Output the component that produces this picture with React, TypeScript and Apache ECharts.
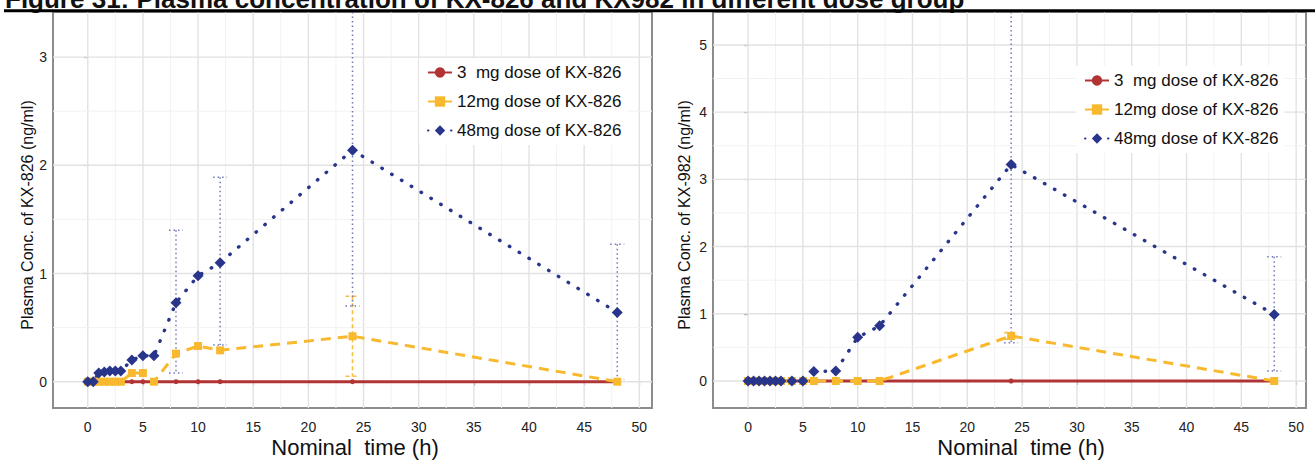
import React, { useEffect, useRef } from "react";
import * as echarts from "echarts";

// Sampling times (h)
const timePoints = [0, 0.5, 1, 1.5, 2, 2.5, 3, 4, 5, 6, 8, 10, 12, 24, 48];

// KX-826 mean plasma concentration (ng/ml)
const kx826Dose3 = [0, 0, 0, 0, 0, 0, 0, 0, 0, 0, 0, 0, 0, 0, 0];
const kx826Dose12 = [0, 0, 0, 0, 0, 0, 0, 0.08, 0.08, 0, 0.26, 0.33, 0.29, 0.42, 0];
const kx826Dose48 = [0, 0, 0.08, 0.09, 0.1, 0.1, 0.1, 0.2, 0.24, 0.24, 0.73, 0.98, 1.1, 2.14, 0.64];

// KX-826 error bar limits
const kx826Err12Times = [24];
const kx826Err12Low = [0.05];
const kx826Err12High = [0.79];
const kx826Err48Times = [8, 12, 24, 48];
const kx826Err48Low = [0.08, 0.34, 0.7, 0.02];
const kx826Err48High = [1.4, 1.89, 3.58, 1.27];

// KX-982 mean plasma concentration (ng/ml)
const kx982Dose3 = [0, 0, 0, 0, 0, 0, 0, 0, 0, 0, 0, 0, 0, 0, 0];
const kx982Dose12 = [0, 0, 0, 0, 0, 0, 0, 0, 0, 0, 0, 0, 0, 0.67, 0];
const kx982Dose48 = [0, 0, 0, 0, 0, 0, 0, 0, 0, 0.14, 0.15, 0.65, 0.82, 3.22, 0.99];

// KX-982 error bar limits
const kx982Err12Times = [24];
const kx982Err12Low = [0.62];
const kx982Err12High = [0.72];
const kx982Err48Times = [24, 48];
const kx982Err48Low = [0.57, 0.15];
const kx982Err48High = [5.87, 1.85];

// Axis ticks and grid lines
const xTicks = [0, 5, 10, 15, 20, 25, 30, 35, 40, 45, 50];
const xMinor = [2.5, 7.5, 12.5, 17.5, 22.5, 27.5, 32.5, 37.5, 42.5, 47.5];
const yTicks826 = [0, 1, 2, 3];
const yMinor826 = [0.5, 1.5, 2.5];
const yTicks982 = [0, 1, 2, 3, 4, 5];
const yMinor982 = [0.5, 1.5, 2.5, 3.5, 4.5];

const seriesNames = ["3  mg dose of KX-826", "12mg dose of KX-826", "48mg dose of KX-826"];

const FONT = "'Liberation Sans', Arial, Helvetica, sans-serif";
const RED = "#b03434";
const YELLOW = "#f9b92e";
const BLUE = "#28358a";
const BLUE_ERR = "#6f79b8";
const YELLOW_ERR = "#f6c040";

function gridLineSeries(idx: number, xMaj: number[], xMin: number[], yMaj: number[], yMin: number[]) {
  const data: number[][] = [];
  xMaj.forEach((v) => data.push([0, v, 0]));
  xMin.forEach((v) => data.push([0, v, 1]));
  yMaj.forEach((v) => data.push([1, v, 0]));
  yMin.forEach((v) => data.push([1, v, 1]));
  return {
    type: "custom",
    xAxisIndex: idx,
    yAxisIndex: idx,
    silent: true,
    z: 1,
    data,
    encode: { x: -1, y: -1 },
    renderItem: (params: any, api: any) => {
      const cs = params.coordSys;
      const horizontal = api.value(0) === 1;
      const v = api.value(1);
      const minor = api.value(2) === 1;
      const style = { stroke: minor ? "#f2f2f2" : "#e2e2e2", lineWidth: minor ? 1 : 1.4 };
      if (horizontal) {
        const y = api.coord([0, v])[1];
        return { type: "line", shape: { x1: cs.x, y1: y, x2: cs.x + cs.width, y2: y }, style };
      }
      const x = api.coord([v, 0])[0];
      return { type: "line", shape: { x1: x, y1: cs.y, x2: x, y2: cs.y + cs.height }, style };
    },
  };
}

function errorBarSeries(
  idx: number,
  times: number[],
  lows: number[],
  highs: number[],
  color: string,
  dash: number[],
  width: number
) {
  return {
    type: "custom",
    xAxisIndex: idx,
    yAxisIndex: idx,
    silent: true,
    z: 2,
    data: times.map((t, i) => [t, lows[i], highs[i]]),
    encode: { x: 0, y: [1, 2] },
    renderItem: (params: any, api: any) => {
      const cs = params.coordSys;
      const t = api.value(0);
      const lo = api.value(1);
      const hi = api.value(2);
      const [x, yLo] = api.coord([t, lo]);
      const yHiRaw = api.coord([t, hi])[1];
      const yHi = Math.max(yHiRaw, cs.y);
      const style = { stroke: color, lineWidth: width, lineDash: dash, fill: null };
      const half = 7;
      const children: any[] = [
        { type: "line", shape: { x1: x, y1: yHi, x2: x, y2: yLo }, style },
        { type: "line", shape: { x1: x - half, y1: yLo, x2: x + half, y2: yLo }, style },
      ];
      if (yHiRaw >= cs.y) {
        children.push({ type: "line", shape: { x1: x - half, y1: yHi, x2: x + half, y2: yHi }, style });
      }
      return { type: "group", children };
    },
  };
}

function doseSeries(idx: number, d3: number[], d12: number[], d48: number[]) {
  const pts = (vals: number[]) => timePoints.map((t, i) => [t, vals[i]]);
  return [
    {
      name: seriesNames[0],
      type: "line",
      xAxisIndex: idx,
      yAxisIndex: idx,
      z: 3,
      data: pts(d3),
      symbol: "circle",
      symbolSize: 5,
      showSymbol: true,
      itemStyle: { color: RED },
      lineStyle: { color: RED, width: 3 },
    },
    {
      name: seriesNames[1],
      type: "line",
      xAxisIndex: idx,
      yAxisIndex: idx,
      z: 3,
      data: pts(d12),
      symbol: "rect",
      symbolSize: 8,
      itemStyle: { color: YELLOW },
      lineStyle: { color: YELLOW, width: 3, type: [10, 7] },
    },
    {
      name: seriesNames[2],
      type: "line",
      xAxisIndex: idx,
      yAxisIndex: idx,
      z: 3,
      data: pts(d48),
      symbol: "diamond",
      symbolSize: 11,
      itemStyle: { color: BLUE },
      lineStyle: { color: BLUE, width: 3.4, type: [0.5, 11], cap: "round" },
    },
  ];
}

function xAxisFor(idx: number, min: number, max: number) {
  return {
    type: "value",
    gridIndex: idx,
    min,
    max,
    axisLine: { show: false },
    axisTick: { show: true, length: 4, customValues: xTicks, lineStyle: { color: "#888", width: 1.2 } },
    axisLabel: { customValues: xTicks, fontSize: 14, color: "#222", fontFamily: FONT, margin: 12 },
    splitLine: { show: false },
  };
}

function yAxisFor(idx: number, min: number, max: number, ticks: number[]) {
  return {
    type: "value",
    gridIndex: idx,
    min,
    max,
    axisLine: { show: false },
    axisTick: { show: true, length: 4, customValues: ticks, lineStyle: { color: "#888", width: 1.2 } },
    axisLabel: { customValues: ticks, fontSize: 14, color: "#222", fontFamily: FONT, margin: 6 },
    splitLine: { show: false },
  };
}

function legendFor(left: number, top: number) {
  return {
    data: seriesNames,
    orient: "vertical",
    left,
    top,
    itemWidth: 24,
    itemHeight: 13,
    itemGap: 12,
    padding: [6, 6, 6, 8],
    backgroundColor: "#ffffff",
    textStyle: { fontSize: 17, color: "#111", fontFamily: FONT },
    selectedMode: false,
  };
}

export default function App() {
  const ref = useRef<HTMLDivElement>(null);

  useEffect(() => {
    if (!ref.current) return;
    const chart = echarts.init(ref.current, null, { renderer: "svg" });

    const option: any = {
      animation: false,
      backgroundColor: "#ffffff",
      textStyle: { fontFamily: FONT },
      grid: [
        { left: 53, top: 12, right: 663, bottom: 52, show: true, borderColor: "#8c8c8c", borderWidth: 2, backgroundColor: "#ffffff" },
        { left: 713, top: 12, right: 9, bottom: 52, show: true, borderColor: "#8c8c8c", borderWidth: 2, backgroundColor: "#ffffff" },
      ],
      xAxis: [xAxisFor(0, -3.15, 51.15), xAxisFor(1, -3.2, 50.9)],
      yAxis: [yAxisFor(0, -0.243, 3.417, yTicks826), yAxisFor(1, -0.402, 5.49, yTicks982)],
      legend: [legendFor(419, 58), legendFor(1076, 66)],
      series: [
        gridLineSeries(0, xTicks, xMinor, yTicks826, yMinor826),
        gridLineSeries(1, xTicks, xMinor, yTicks982, yMinor982),
        errorBarSeries(0, kx826Err12Times, kx826Err12Low, kx826Err12High, YELLOW_ERR, [4, 3], 1.6),
        errorBarSeries(0, kx826Err48Times, kx826Err48Low, kx826Err48High, BLUE_ERR, [1.5, 3], 1.5),
        errorBarSeries(1, kx982Err12Times, kx982Err12Low, kx982Err12High, YELLOW_ERR, [4, 3], 1.6),
        errorBarSeries(1, kx982Err48Times, kx982Err48Low, kx982Err48High, BLUE_ERR, [1.5, 3], 1.5),
        ...doseSeries(0, kx826Dose3, kx826Dose12, kx826Dose48),
        ...doseSeries(1, kx982Dose3, kx982Dose12, kx982Dose48),
      ],
      graphic: [
        {
          type: "text",
          x: 5,
          y: 12,
          z: 10,
          style: {
            text: "Figure 31: Plasma concentration of KX-826 and KX982 in different dose group",
            font: `bold 26px ${FONT}`,
            fill: "#111",
            align: "left",
            verticalAlign: "bottom",
          },
        },
        { type: "rect", z: 20, shape: { x: 4, y: 9.3, width: 1311, height: 3 }, style: { fill: "#000" } },
        {
          type: "text",
          x: 27,
          y: 215,
          rotation: Math.PI / 2,
          style: { text: "Plasma Conc. of KX-826 (ng/ml)", font: `16px ${FONT}`, fill: "#111", align: "center", verticalAlign: "middle" },
        },
        {
          type: "text",
          x: 684,
          y: 215,
          rotation: Math.PI / 2,
          style: { text: "Plasma Conc. of KX-982 (ng/ml)", font: `16px ${FONT}`, fill: "#111", align: "center", verticalAlign: "middle" },
        },
        {
          type: "text",
          x: 355,
          y: 447,
          style: { text: "Nominal  time (h)", font: `22px ${FONT}`, fill: "#111", align: "center", verticalAlign: "middle" },
        },
        {
          type: "text",
          x: 1021,
          y: 447,
          style: { text: "Nominal  time (h)", font: `22px ${FONT}`, fill: "#111", align: "center", verticalAlign: "middle" },
        },
      ],
    };

    chart.setOption(option);
    return () => {
      chart.dispose();
    };
  }, []);

  return (
    <div
      ref={ref}
      style={{ position: "fixed", left: 0, top: 0, width: 1315, height: 460, background: "#fff" }}
    />
  );
}
